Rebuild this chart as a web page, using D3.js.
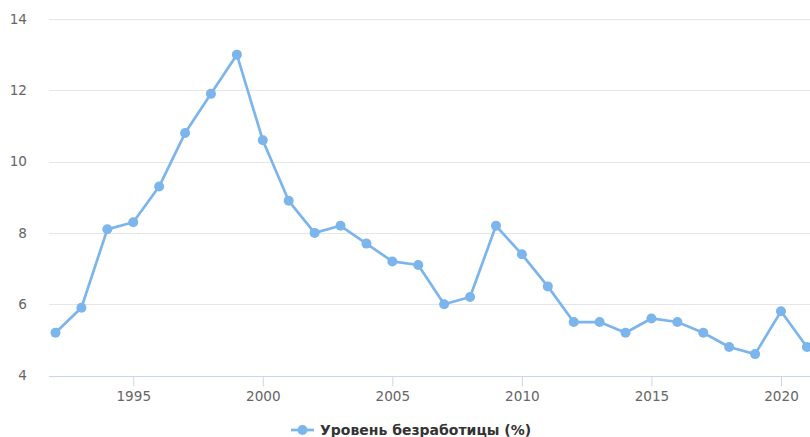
<!DOCTYPE html>
<html>
<head>
<meta charset="utf-8">
<script src="https://cdn.jsdelivr.net/npm/d3@7"></script>
<style>
  html, body { margin: 0; padding: 0; background: #fff; }
  svg { display: block; }
</style>
</head>
<body>
<svg id="chart" width="810" height="437"></svg>
<script>
// Unemployment rate by year
const years = [1992, 1993, 1994, 1995, 1996, 1997, 1998, 1999, 2000, 2001,
               2002, 2003, 2004, 2005, 2006, 2007, 2008, 2009, 2010, 2011,
               2012, 2013, 2014, 2015, 2016, 2017, 2018, 2019, 2020, 2021];
const rates = [5.2, 5.9, 8.1, 8.3, 9.3, 10.8, 11.9, 13.0, 10.6, 8.9,
               8.0, 8.2, 7.7, 7.2, 7.1, 6.0, 6.2, 8.2, 7.4, 6.5,
               5.5, 5.5, 5.2, 5.6, 5.5, 5.2, 4.8, 4.6, 5.8, 4.8];
const yTicks = [4, 6, 8, 10, 12, 14];
const xTicks = [1995, 2000, 2005, 2010, 2015, 2020];
const seriesName = "Уровень безработицы (%)";

const color = "#7cb5ec";
const font = "'DejaVu Sans', Verdana, sans-serif";

const svg = d3.select("#chart");
const plotLeft = 49, plotRight = 810;

const x = d3.scaleLinear().domain([1992, 2021]).range([55.5, 806.9]);
const y = d3.scaleLinear().domain([4, 14]).range([375.5, 19]);

// horizontal grid
svg.append("g")
  .selectAll("line")
  .data(yTicks.filter(t => t !== 4))
  .join("line")
  .attr("x1", plotLeft).attr("x2", plotRight)
  .attr("y1", d => Math.round(y(d)) + 0.5).attr("y2", d => Math.round(y(d)) + 0.5)
  .attr("stroke", "#e6e6e6").attr("stroke-width", 1);

// y labels
svg.append("g")
  .selectAll("text")
  .data(yTicks)
  .join("text")
  .attr("x", 27).attr("y", d => y(d) + 4.8)
  .attr("text-anchor", "end")
  .attr("font-family", font).attr("font-size", 13.6)
  .attr("fill", "#666")
  .text(d => d);

// x axis
const xAxis = d3.axisBottom(x).tickValues(xTicks).tickSize(10).tickFormat(d3.format("d"));
const gx = svg.append("g")
  .attr("transform", `translate(0,${Math.round(y(4)) + 0.5})`)
  .call(xAxis);
gx.select(".domain").remove();
gx.insert("line", ":first-child")
  .attr("x1", plotLeft).attr("x2", plotRight)
  .attr("stroke", "#ccd6eb");
gx.selectAll(".tick line").attr("stroke", "#ccd6eb");
gx.selectAll(".tick text")
  .attr("font-family", font).attr("font-size", 13.6)
  .attr("fill", "#666").attr("dy", "0.9em").attr("y", 12);

// series line
const line = d3.line().x((d, i) => x(years[i])).y(d => y(d));
svg.append("path")
  .datum(rates)
  .attr("d", line)
  .attr("fill", "none")
  .attr("stroke", color)
  .attr("stroke-width", 2.7)
  .attr("stroke-linejoin", "round");

svg.append("g")
  .selectAll("circle")
  .data(rates)
  .join("circle")
  .attr("cx", (d, i) => x(years[i]))
  .attr("cy", d => y(d))
  .attr("r", 5)
  .attr("fill", color);

// legend
const lg = svg.append("g").attr("transform", "translate(291,430)");
lg.append("line").attr("x1", 0).attr("x2", 23).attr("y1", 0).attr("y2", 0)
  .attr("stroke", color).attr("stroke-width", 2.7);
lg.append("circle").attr("cx", 11.5).attr("cy", 0).attr("r", 5).attr("fill", color);
lg.append("text")
  .attr("x", 29).attr("y", 5)
  .attr("font-family", font).attr("font-size", 14).attr("font-weight", "bold")
  .attr("fill", "#333")
  .text(seriesName);
</script>
</body>
</html>
